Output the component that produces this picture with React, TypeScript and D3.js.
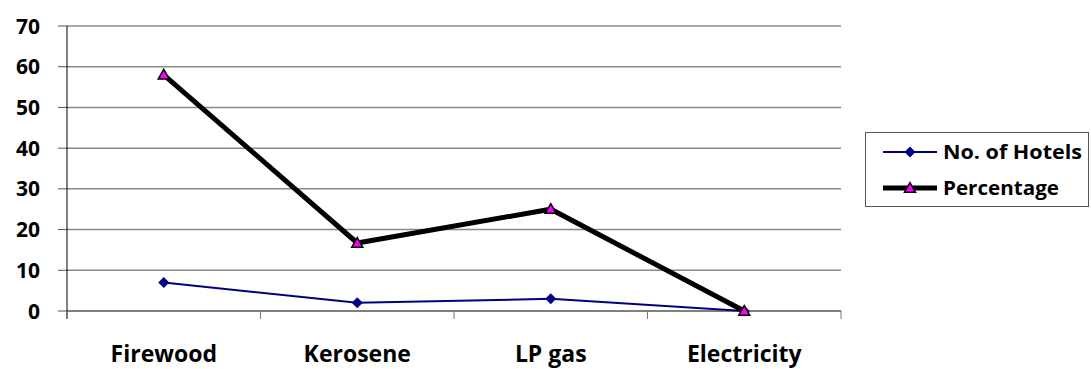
import React from "react";
import * as d3 from "d3";

const categories = ["Firewood", "Kerosene", "LP gas", "Electricity"];
const hotels = [7, 2, 3, 0];
const percentage = [58, 16.7, 25, 0];
const yTicks = [0, 10, 20, 30, 40, 50, 60, 70];
const seriesNames = ["No. of Hotels", "Percentage"];

const W = 1091, H = 369;
const left = 67, right = 841, top = 26, bottom = 311;
const font = "'Open Sans', sans-serif";

export default function App() {
  const x = d3.scaleBand<string>().domain(categories).range([left, right]);
  const y = d3.scaleLinear().domain([0, 70]).range([bottom, top]);
  const cx = (c: string) => (x(c) as number) + x.bandwidth() / 2;
  const line = d3.line<number>().x((_, i) => cx(categories[i])).y(d => y(d));
  const tri = (px: number, py: number, s: number) =>
    `M${px},${py - s} L${px + s},${py + s * 0.75} L${px - s},${py + s * 0.75} Z`;
  const dia = (px: number, py: number, s: number) =>
    `M${px},${py - s} L${px + s},${py} L${px},${py + s} L${px - s},${py} Z`;
  const bounds = [...categories.map(c => x(c) as number), right];
  const legendWidths = [139, 116];

  return (
    <svg width={W} height={H} style={{ position: "absolute", left: 0, top: 0 }}>
      <rect width={W} height={H} fill="#fff" />
      {yTicks.map(t => (
        <g key={t}>
          {t > 0 && <line x1={left} x2={right} y1={y(t)} y2={y(t)} stroke="#888" strokeWidth={1.5} />}
          <line x1={58} x2={left} y1={y(t)} y2={y(t)} stroke="#555" strokeWidth={1} />
          <text x={40} y={y(t) + 7.5} textAnchor="end" fontFamily={font} fontWeight="bold" fontSize={21} fill="#000">{t}</text>
        </g>
      ))}
      <line x1={left} x2={left} y1={top} y2={bottom + 8} stroke="#000" strokeWidth={1} />
      <line x1={left} x2={right} y1={bottom} y2={bottom} stroke="#000" strokeWidth={1} />
      {bounds.map((b, i) => (
        <line key={i} x1={b} x2={b} y1={bottom} y2={bottom + 8} stroke="#777" strokeWidth={1} />
      ))}
      {categories.map(c => (
        <text key={c} x={cx(c)} y={362} textAnchor="middle" fontFamily={font} fontWeight="bold" fontSize={23} fill="#000">{c}</text>
      ))}
      <path d={line(hotels) || ""} fill="none" stroke="#000080" strokeWidth={2} />
      {hotels.map((v, i) => (
        <path key={i} d={dia(cx(categories[i]), y(v), 5.5)} fill="#000080" />
      ))}
      <path d={line(percentage) || ""} fill="none" stroke="#000" strokeWidth={5} strokeLinejoin="miter" />
      {percentage.map((v, i) => (
        <path key={i} d={tri(cx(categories[i]), y(v), 5.5)} fill="#ff00ff" stroke="#000" strokeWidth={1.5} />
      ))}
      <rect x={865.5} y={132.5} width={223} height={74} fill="#fff" stroke="#555" strokeWidth={1} />
      {seriesNames.map((n, i) => {
        const ly = 152 + i * 36;
        return (
          <g key={n}>
            <line x1={883} x2={937} y1={ly} y2={ly} stroke={i === 0 ? "#000080" : "#000"} strokeWidth={i === 0 ? 2 : 5} />
            {i === 0 ? <path d={dia(910, ly, 5.5)} fill="#000080" /> : <path d={tri(910, ly, 5.5)} fill="#ff00ff" stroke="#000" strokeWidth={1.5} />}
            <text x={943} y={ly + 6.5} fontFamily={font} fontWeight="bold" fontSize={20} fill="#000"
              textLength={legendWidths[i]} lengthAdjust="spacingAndGlyphs">{n}</text>
          </g>
        );
      })}
    </svg>
  );
}
